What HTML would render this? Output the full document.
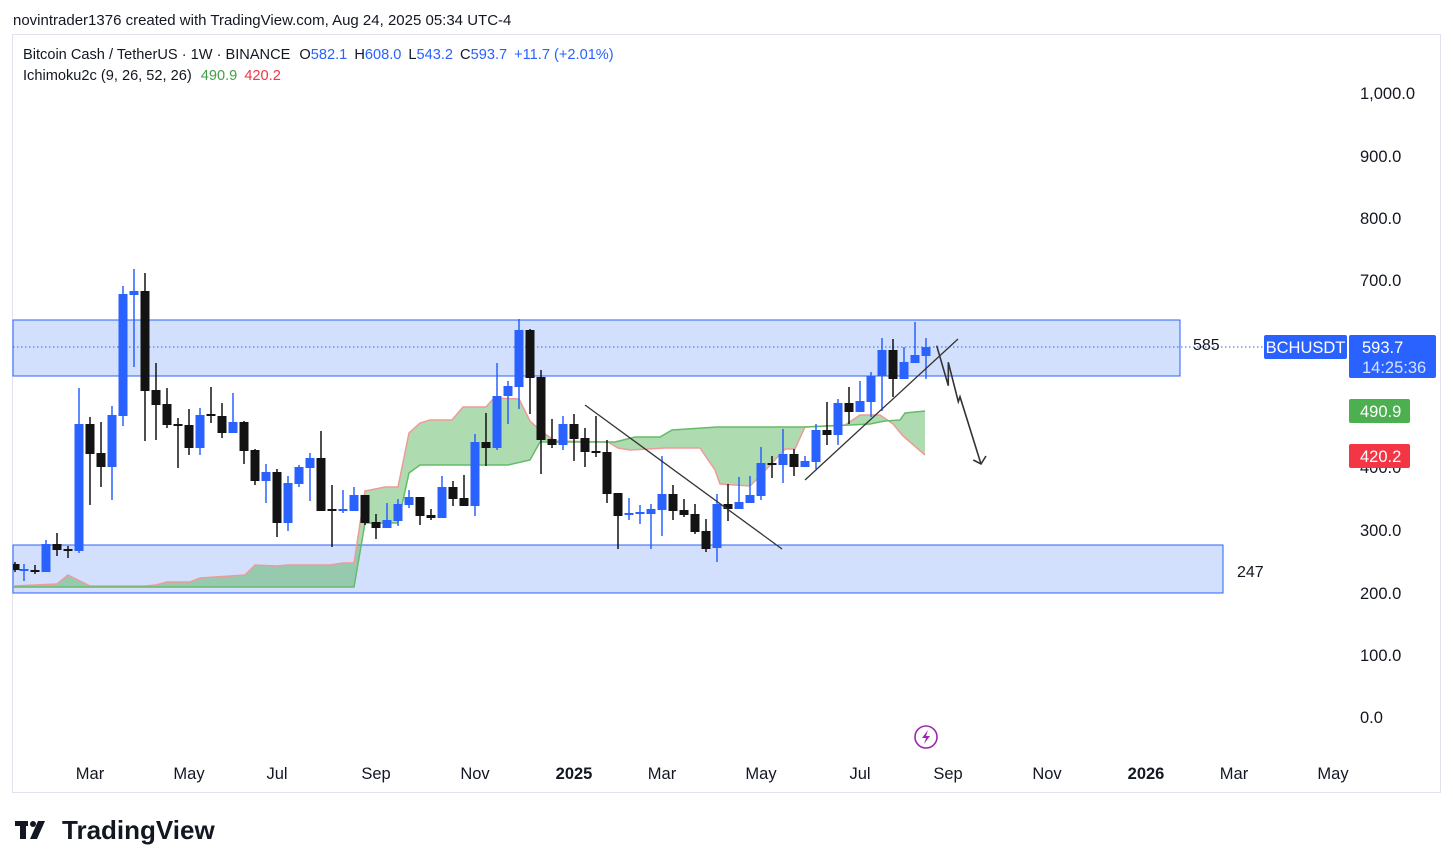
<!DOCTYPE html>
<html><head><meta charset="utf-8"><style>
body{margin:0;background:#fff;width:1453px;height:868px;overflow:hidden;font-family:"Liberation Sans",sans-serif}
svg{position:absolute;left:0;top:0}
</style></head><body>
<svg width="1453" height="868" viewBox="0 0 1453 868" font-family="Liberation Sans, sans-serif">
<rect x="12.5" y="34.5" width="1428" height="758" fill="#fff" stroke="#e0e3eb"/>
<text x="13" y="25" font-size="15" fill="#131722">novintrader1376 created with TradingView.com, Aug 24, 2025 05:34 UTC-4</text>
<text x="23" y="59" font-size="14.6" fill="#131722">Bitcoin Cash / TetherUS · 1W · BINANCE <tspan dx="5">O</tspan><tspan fill="#2962ff">582.1</tspan><tspan dx="7">H</tspan><tspan fill="#2962ff">608.0</tspan><tspan dx="7">L</tspan><tspan fill="#2962ff">543.2</tspan><tspan dx="7">C</tspan><tspan fill="#2962ff">593.7</tspan><tspan dx="7" fill="#2962ff">+11.7 (+2.01%)</tspan></text>
<text x="23" y="80" font-size="14.6" fill="#131722">Ichimoku2c (9, 26, 52, 26) <tspan dx="5" fill="#43a047">490.9</tspan><tspan dx="7" fill="#f23645">420.2</tspan></text>
<!-- boxes -->
<rect x="13" y="320" width="1167" height="56" fill="#d3e0fd" stroke="#2962ff" stroke-width="1"/>
<rect x="13" y="545" width="1210" height="48" fill="#d3e0fd" stroke="#2962ff" stroke-width="1"/>
<line x1="13" y1="347" x2="1263" y2="347" stroke="#2962ff" stroke-dasharray="1.5,2.5"/>
<text x="1193" y="350" font-size="16" fill="#131722">585</text>
<text x="1237" y="577" font-size="16" fill="#131722">247</text>
<!-- cloud -->
<polygon fill="#4caf50" fill-opacity="0.45" points="13,586 57,584 68,575 90,586 145,586 156,585 167,582 190,582 200,578 245,575 255,565 277,566 288,565 330,565 343,563 354,563 365,491 385,487 398,487 409,433 420,423 430,420 452,420 463,407 486,407 494,398 519,399 530,421 541,431 555,441 608,442 618,448 630,450 665,448 700,448 715,470 720,484 750,486 760,476 785,449 795,449 805,427 845,425 860,415 880,415 893,424 903,436 925,455 925,411 905,413 900,420 885,421 870,424 850,425 805,427 717,427 672,430 660,437 635,437 615,442 540,442 530,460 508,465 420,465 409,473 398,523 365,523 354,587 13,587"/>
<polyline fill="none" stroke="#ef9a9a" stroke-width="1.5" points="13,586 57,584 68,575 90,586 145,586 156,585 167,582 190,582 200,578 245,575 255,565 277,566 288,565 330,565 343,563 354,563 365,491 385,487 398,487 409,433 420,423 430,420 452,420 463,407 486,407 494,398 519,399 530,421 541,431 555,441 608,442 618,448 630,450 665,448 700,448 715,470 720,484 750,486 760,476 785,449 795,449 805,427 845,425 860,415 880,415 893,424 903,436 925,455"/>
<polyline fill="none" stroke="#66bb6a" stroke-width="1.5" points="13,587 354,587 365,523 398,523 409,473 420,465 508,465 530,460 540,442 615,442 635,437 660,437 672,430 717,427 805,427 850,425 870,424 885,421 900,420 905,413 925,411"/>
<!-- wicks -->
<g stroke-width="1.5">
<g stroke="#2962ff">
<path d="M24 564V581M46 540V572M79 388V553M112 406V500M123 286V426M134 269V367M200 408V455M233 393V433M266 464V503M288 476V531M299 465V487M310 453V501M343 490V513M354 487V511M387 503V528M398 499V526M409 490V508M442 476V518M475 434V516M497 363V450M508 381V424M519 319V409M563 416V450M629 498V520M640 505V524M651 504V549M662 456V536M717 494V562M739 477V509M750 476V503M761 447V500M783 429V483M805 456V467M816 424V469M838 399V445M860 381V412M871 372V417M882 338V411M904 347V379M915 322V363M926 338V379"/>
</g>
<g stroke="#131313">
<path d="M15 562V572M35 565V574M57 533V556M68 546V558M90 417V505M101 422V487M145 273V441M156 363V440M167 388V428M178 418V468M189 409V455M211 387V423M222 403V438M244 421V464M255 449V485M277 469V537M321 431V511M332 485V547M365 495V525M376 514V539M420 497V525M431 509V520M453 481V506M464 475V506M486 413V466M530 329V414M541 370V474M552 419V448M574 414V461M585 428V467M596 416V457M607 440V503M618 493V549M673 485V520M684 499V517M695 504V534M706 519V552M728 484V521M772 456V478M794 449V476M827 402V445M849 387V424M893 339V397"/>
</g>
</g>
<!-- bodies -->
<g fill="#2962ff">
<rect x="19.5" y="569" width="9" height="2"/><rect x="41.5" y="544" width="9" height="28"/><rect x="74.5" y="424" width="9" height="127"/><rect x="107.5" y="415" width="9" height="52"/><rect x="118.5" y="294" width="9" height="122"/><rect x="129.5" y="291" width="9" height="4"/><rect x="195.5" y="415" width="9" height="33"/><rect x="228.5" y="422" width="9" height="11"/><rect x="261.5" y="472" width="9" height="9"/><rect x="283.5" y="483" width="9" height="40"/><rect x="294.5" y="467" width="9" height="17"/><rect x="305.5" y="458" width="9" height="10"/><rect x="338.5" y="509" width="9" height="2"/><rect x="349.5" y="495" width="9" height="16"/><rect x="382.5" y="520" width="9" height="8"/><rect x="393.5" y="504" width="9" height="17"/><rect x="404.5" y="497" width="9" height="8"/><rect x="437.5" y="487" width="9" height="31"/><rect x="470.5" y="442" width="9" height="64"/><rect x="492.5" y="396" width="9" height="52"/><rect x="503.5" y="386" width="9" height="10"/><rect x="514.5" y="330" width="9" height="57"/><rect x="558.5" y="424" width="9" height="21"/><rect x="624.5" y="513" width="9" height="2"/><rect x="635.5" y="512" width="9" height="2"/><rect x="646.5" y="509" width="9" height="5"/><rect x="657.5" y="494" width="9" height="16"/><rect x="712.5" y="504" width="9" height="44"/><rect x="734.5" y="502" width="9" height="7"/><rect x="745.5" y="495" width="9" height="8"/><rect x="756.5" y="463" width="9" height="33"/><rect x="778.5" y="454" width="9" height="11"/><rect x="800.5" y="461" width="9" height="6"/><rect x="811.5" y="430" width="9" height="32"/><rect x="833.5" y="403" width="9" height="32"/><rect x="855.5" y="401" width="9" height="11"/><rect x="866.5" y="376" width="9" height="26"/><rect x="877.5" y="350" width="9" height="26"/><rect x="899.5" y="362" width="9" height="17"/><rect x="910.5" y="355" width="9" height="8"/><rect x="921.5" y="347" width="9" height="9"/>
</g>
<g fill="#131313">
<rect x="13" y="564" width="6.5" height="6"/><rect x="30.5" y="570" width="9" height="2"/><rect x="52.5" y="544" width="9" height="6"/><rect x="63.5" y="549" width="9" height="2"/><rect x="85.5" y="424" width="9" height="30"/><rect x="96.5" y="453" width="9" height="14"/><rect x="140.5" y="291" width="9" height="100"/><rect x="151.5" y="390" width="9" height="15"/><rect x="162.5" y="404" width="9" height="21"/><rect x="173.5" y="424" width="9" height="2"/><rect x="184.5" y="425" width="9" height="23"/><rect x="206.5" y="414" width="9" height="2"/><rect x="217.5" y="416" width="9" height="17"/><rect x="239.5" y="422" width="9" height="29"/><rect x="250.5" y="450" width="9" height="31"/><rect x="272.5" y="472" width="9" height="51"/><rect x="316.5" y="458" width="9" height="53"/><rect x="327.5" y="509" width="9" height="2"/><rect x="360.5" y="495" width="9" height="28"/><rect x="371.5" y="522" width="9" height="6"/><rect x="415.5" y="497" width="9" height="19"/><rect x="426.5" y="515" width="9" height="3"/><rect x="448.5" y="487" width="9" height="12"/><rect x="459.5" y="498" width="9" height="8"/><rect x="481.5" y="442" width="9" height="6"/><rect x="525.5" y="330" width="9" height="48"/><rect x="536.5" y="377" width="9" height="63"/><rect x="547.5" y="439" width="9" height="6"/><rect x="569.5" y="424" width="9" height="15"/><rect x="580.5" y="438" width="9" height="14"/><rect x="591.5" y="451" width="9" height="2"/><rect x="602.5" y="452" width="9" height="42"/><rect x="613.5" y="493" width="9" height="23"/><rect x="668.5" y="494" width="9" height="17"/><rect x="679.5" y="510" width="9" height="5"/><rect x="690.5" y="514" width="9" height="18"/><rect x="701.5" y="531" width="9" height="18"/><rect x="723.5" y="504" width="9" height="5"/><rect x="767.5" y="463" width="9" height="2"/><rect x="789.5" y="454" width="9" height="13"/><rect x="822.5" y="430" width="9" height="5"/><rect x="844.5" y="403" width="9" height="9"/><rect x="888.5" y="350" width="9" height="29"/>
</g>
<!-- drawings -->
<g stroke="#333" stroke-width="1.3" fill="none">
<line x1="585" y1="405" x2="782" y2="549"/>
<line x1="805" y1="480" x2="958" y2="339"/>
<polyline points="936.7,345.7 948.3,385.7 948.3,362.3 958.3,401.7 960,396.7 981,464" stroke-width="1.6"/>
<polyline points="973.3,460 981,464 986,456" stroke-width="1.6"/>
</g>
<!-- price axis -->
<g font-size="16.5" fill="#131722">
<text x="1360" y="99">1,000.0</text><text x="1360" y="162">900.0</text><text x="1360" y="224">800.0</text><text x="1360" y="286">700.0</text><text x="1360" y="473">400.0</text><text x="1360" y="536">300.0</text><text x="1360" y="599">200.0</text><text x="1360" y="661">100.0</text><text x="1360" y="723">0.0</text>
</g>
<rect x="1264" y="335" width="83" height="24" rx="2" fill="#2962ff"/>
<text x="1305.5" y="353" font-size="16.5" fill="#fff" text-anchor="middle">BCHUSDT</text>
<rect x="1349" y="335" width="87" height="43" rx="2" fill="#2962ff"/>
<text x="1362" y="353" font-size="16.5" fill="#fff">593.7</text>
<text x="1362" y="373" font-size="16.5" fill="#d6e0ff">14:25:36</text>
<rect x="1349" y="399" width="61" height="24" rx="2" fill="#4caf50"/>
<text x="1360" y="417" font-size="16.5" fill="#fff">490.9</text>
<rect x="1349" y="444" width="61" height="24" rx="2" fill="#f23645"/>
<text x="1360" y="462" font-size="16.5" fill="#fff">420.2</text>
<!-- time axis -->
<g font-size="16.5" fill="#131722" text-anchor="middle">
<text x="90" y="779">Mar</text><text x="189" y="779">May</text><text x="277" y="779">Jul</text><text x="376" y="779">Sep</text><text x="475" y="779">Nov</text><text x="574" y="779" font-weight="bold">2025</text><text x="662" y="779">Mar</text><text x="761" y="779">May</text><text x="860" y="779">Jul</text><text x="948" y="779">Sep</text><text x="1047" y="779">Nov</text><text x="1146" y="779" font-weight="bold">2026</text><text x="1234" y="779">Mar</text><text x="1333" y="779">May</text>
</g>
<circle cx="926" cy="737" r="11" fill="none" stroke="#9c27b0" stroke-width="1.6"/>
<path d="M928 730 L922 738 L926 738 L924 744 L930 736 L926 736 Z" fill="#9c27b0"/>
<!-- logo -->
<g fill="#131722">
<rect x="15" y="821" width="13" height="5"/><rect x="20" y="821" width="6" height="18"/>
<circle cx="33" cy="824" r="3"/>
<polygon points="38,821 45,821 37,839 30,839"/>
<text x="62" y="839" font-size="26" font-weight="bold">TradingView</text>
</g>
</svg>
</body></html>
